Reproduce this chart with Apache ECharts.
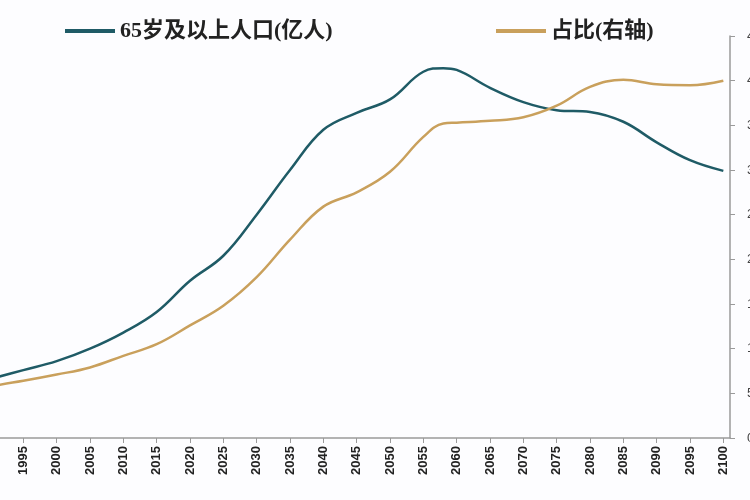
<!DOCTYPE html>
<html>
<head>
<meta charset="utf-8">
<script src="https://cdn.jsdelivr.net/npm/echarts@6/dist/echarts.min.js"></script>
<style>
  html, body { margin: 0; padding: 0; background: #fdfdff; }
  #chart { width: 750px; height: 500px; }
</style>
</head>
<body>
<div id="chart"></div>
<script>
// 年份
const years = [1990, 1995, 2000, 2005, 2010, 2015, 2020, 2025, 2030, 2035, 2040, 2045,
  2050, 2055, 2058, 2060, 2065, 2070, 2075, 2080, 2085, 2090, 2095, 2100]
// 65岁及以上人口(亿人)
const elderly = [0.66, 0.76, 0.86, 1.00, 1.18, 1.41, 1.76, 2.04, 2.50, 3.00, 3.45, 3.64,
  3.79, 4.10, 4.14, 4.12, 3.92, 3.76, 3.67, 3.65, 3.54, 3.31, 3.11, 2.99]
// 占比(%)
const share = [5.8, 6.4, 7.1, 7.9, 9.2, 10.5, 12.6, 14.8, 18.0, 22.2, 25.9, 27.5,
  29.8, 33.7, 35.2, 35.3, 35.5, 35.9, 37.2, 39.3, 40.1, 39.6, 39.5, 40.0]
// x轴刻度
const xTicks = []
for (let y = 1990; y <= 2100; y += 5) xTicks.push(y)

const legendFont = {
  fontFamily: '"Liberation Serif", "Noto Sans CJK SC"',
  fontWeight: 'bold',
  fontSize: 22,
  color: '#222',
}

const chart = echarts.init(document.getElementById('chart'))
chart.setOption({
  backgroundColor: '#fdfdff',
  animation: false,
  legend: [
    {
      data: ['65岁及以上人口(亿人)'],
      left: 65, top: 20, padding: 0,
      itemWidth: 50, itemHeight: 4, icon: 'rect',
      textStyle: legendFont,
    },
    {
      data: ['占比(右轴)'],
      left: 496, top: 20, padding: 0,
      itemWidth: 50, itemHeight: 4, icon: 'rect',
      textStyle: legendFont,
    },
  ],
  grid: { left: -10, right: 20, top: 36, bottom: 62, containLabel: false, outerBoundsMode: 'none' },
  xAxis: {
    type: 'value',
    min: 1990,
    max: 2101,
    interval: 5,
    splitLine: { show: false },
    axisLine: { show: true, lineStyle: { color: '#9a9a9a', width: 1.5 } },
    axisTick: { show: true, length: 5, customValues: xTicks, lineStyle: { color: '#9a9a9a' } },
    axisLabel: {
      customValues: xTicks,
      rotate: 90,
      margin: 8,
      fontSize: 13,
      fontWeight: 'bold',
      fontFamily: '"Liberation Sans", sans-serif',
      color: '#222',
      formatter: (v) => String(v),
    },
  },
  yAxis: [
    {
      type: 'value',
      min: 0, max: 4.5, interval: 0.5,
      position: 'left',
      axisLine: { show: false },
      axisTick: { show: false },
      axisLabel: { show: false },
      splitLine: { show: false },
    },
    {
      type: 'value',
      min: 0, max: 45, interval: 5,
      position: 'right',
      axisLine: { show: true, lineStyle: { color: '#9a9a9a', width: 1.5 } },
      axisTick: { show: true, length: 5, lineStyle: { color: '#9a9a9a' } },
      axisLabel: { margin: 17, fontSize: 13, color: '#444' },
      splitLine: { show: false },
    },
  ],
  series: [
    {
      name: '65岁及以上人口(亿人)',
      type: 'line',
      yAxisIndex: 0,
      smooth: 0.4,
      showSymbol: false,
      color: '#1f5b66',
      lineStyle: { width: 2.5, color: '#1f5b66' },
      data: years.map((y, i) => [y, elderly[i]]),
    },
    {
      name: '占比(右轴)',
      type: 'line',
      yAxisIndex: 1,
      smooth: 0.4,
      showSymbol: false,
      color: '#c9a05c',
      lineStyle: { width: 2.5, color: '#c9a05c' },
      data: years.map((y, i) => [y, share[i]]),
    },
  ],
})
</script>
</body>
</html>
